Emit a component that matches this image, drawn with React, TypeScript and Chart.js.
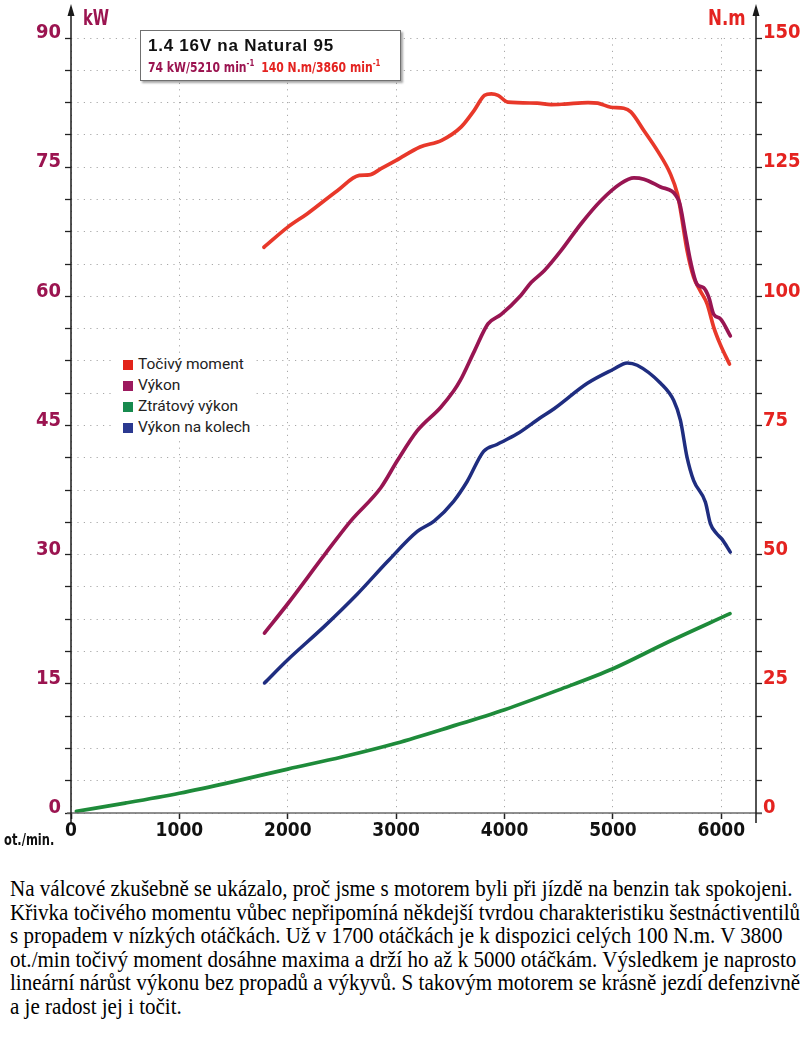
import React, { useEffect, useRef } from 'react';
import { Chart, registerables } from 'chart.js';

Chart.register(...registerables);

// ---------- data ----------
const torqueRpm = [1780, 2000, 2180, 2460, 2660, 2750, 2860, 3000, 3220, 3420, 3600, 3720, 3816, 3878, 3940, 4030, 4300, 4430, 4550, 4770, 4860, 4980, 5100, 5165, 5285, 5410, 5530, 5595, 5625, 5685, 5745, 5805, 5870, 5930, 5990, 6075];
const torqueNm = [109.5, 113.4, 116.0, 120.5, 123.4, 123.5, 124.7, 126.3, 128.9, 130.2, 132.8, 136.0, 138.9, 139.2, 138.9, 137.6, 137.4, 137.1, 137.2, 137.5, 137.4, 136.6, 136.4, 135.7, 132.1, 128.2, 123.7, 119.8, 116.5, 108.8, 103.7, 101.1, 98.5, 94.0, 90.7, 86.9];

const powerRpm = [1785, 2000, 2340, 2580, 2860, 3010, 3195, 3410, 3530, 3590, 3724, 3847, 3969, 4150, 4245, 4368, 4521, 4704, 4888, 5072, 5194, 5286, 5440, 5608, 5669, 5715, 5776, 5837, 5884, 5930, 5991, 6083];
const powerKw = [20.9, 24.3, 30.0, 33.9, 37.8, 40.9, 44.4, 47.1, 49.0, 50.2, 53.7, 56.8, 57.9, 60.1, 61.6, 63.0, 65.3, 68.4, 71.1, 73.1, 73.76, 73.6, 72.7, 71.1, 67.2, 64.1, 61.4, 61.0, 59.9, 57.9, 57.4, 55.4];

const wheelRpm = [1785, 2000, 2340, 2640, 2920, 3195, 3350, 3530, 3655, 3807, 3930, 4113, 4330, 4457, 4764, 5000, 5132, 5224, 5440, 5561, 5623, 5684, 5745, 5853, 5899, 5960, 6006, 6083];
const wheelKw = [15.1, 17.8, 21.7, 25.4, 29.2, 32.7, 33.9, 36.2, 38.5, 42.0, 42.8, 44.0, 45.9, 46.95, 49.9, 51.5, 52.27, 52.0, 49.9, 47.9, 45.6, 41.3, 38.6, 36.1, 33.6, 32.4, 31.8, 30.3];

const lossRpm = [50, 500, 1000, 1500, 2000, 2500, 3000, 3500, 4000, 4500, 5000, 5500, 6080];
const lossKw = [0.2, 1.15, 2.3, 3.65, 5.1, 6.5, 8.1, 10.0, 12.0, 14.3, 16.75, 19.8, 23.15];

const rpmTicks = [0, 1000, 2000, 3000, 4000, 5000, 6000];
const kwLabelStep = 15;
const nmLabelStep = 25;

const legendLabels = ['Točivý moment', 'Výkon', 'Ztrátový výkon', 'Výkon na kolech'];
const legendColors = ['#e2231a', '#9c1a5e', '#178a4e', '#2b3990'];

const titleText = '1.4 16V na Natural 95';
const subPower = '74 kW/5210 min';
const subTorque = '140 N.m/3860 min';

const captionLines = [
  'Na válcové zkušebně se ukázalo, proč jsme s motorem byli při jízdě na benzin tak spokojeni.',
  'Křivka točivého momentu vůbec nepřipomíná někdejší tvrdou charakteristiku šestnáctiventilů',
  's propadem v nízkých otáčkách. Už v 1700 otáčkách je k dispozici celých 100 N.m. V 3800',
  'ot./min točivý moment dosáhne maxima a drží ho až k 5000 otáčkám. Výsledkem je naprosto',
  'lineární nárůst výkonu bez propadů a výkyvů. S takovým motorem se krásně jezdí defenzivně',
  'a je radost jej i točit.',
];

// ---------- styles ----------
const NARROW = '"DejaVu Sans Condensed", "Liberation Sans Narrow", sans-serif';
const MAROON = '#9b1450';
const RED = '#e42320';
const LINE_RED = '#e8382a';
const LINE_MAROON = '#981552';
const LINE_GREEN = '#1e8b3a';
const LINE_BLUE = '#1f2d80';

const toPoints = (xs: number[], ys: number[]) => xs.map((x, i) => ({ x, y: ys[i] }));

const axisDecor = {
  id: 'axisDecor',
  afterDraw(chart: any) {
    const { ctx, chartArea: ca } = chart;
    ctx.save();
    ctx.strokeStyle = '#6a6a6a';
    ctx.lineWidth = 1.6;
    ctx.beginPath();
    ctx.moveTo(ca.left - 4, ca.bottom);
    ctx.lineTo(ca.right + 6, ca.bottom);
    ctx.stroke();
    ctx.strokeStyle = '#1a1a1a';
    ctx.fillStyle = '#1a1a1a';
    ctx.lineWidth = 1.5;
    [ca.left, ca.right].forEach((x: number) => {
      ctx.beginPath();
      ctx.moveTo(x, ca.bottom + 10);
      ctx.lineTo(x, 14);
      ctx.stroke();
      ctx.beginPath();
      ctx.moveTo(x, 4);
      ctx.lineTo(x - 3.5, 16);
      ctx.lineTo(x + 3.5, 16);
      ctx.closePath();
      ctx.fill();
    });
    ctx.restore();
  },
};

function EngineChart() {
  const ref = useRef<HTMLCanvasElement | null>(null);
  useEffect(() => {
    if (!ref.current) return;
    const lineDs = (label: string, pts: any[], color: string, axis: string, width: number) => ({
      label,
      data: pts,
      borderColor: color,
      backgroundColor: color,
      borderWidth: width,
      pointRadius: 0,
      fill: false,
      yAxisID: axis,
      cubicInterpolationMode: 'monotone' as const,
      borderCapStyle: 'round' as const,
      borderJoinStyle: 'round' as const,
    });
    const chart = new Chart(ref.current, {
      type: 'line',
      data: {
        datasets: [
          lineDs('Ztrátový výkon', toPoints(lossRpm, lossKw), LINE_GREEN, 'y', 3.7),
          lineDs('Výkon na kolech', toPoints(wheelRpm, wheelKw), LINE_BLUE, 'y', 3.5),
          lineDs('Výkon', toPoints(powerRpm, powerKw), LINE_MAROON, 'y', 3.7),
          lineDs('Točivý moment', toPoints(torqueRpm, torqueNm), LINE_RED, 'y2', 3.7),
        ],
      },
      options: {
        responsive: false,
        animation: false,
        devicePixelRatio: 1,
        layout: { padding: { top: 38, left: 0, right: 0, bottom: 0 } },
        plugins: { legend: { display: false }, tooltip: { enabled: false }, title: { display: false } },
        scales: {
          x: {
            type: 'linear',
            min: 0,
            max: 6320,
            afterBuildTicks: (s: any) => {
              s.ticks = rpmTicks.map((v) => ({ value: v }));
            },
            afterFit: (s: any) => {
              s.height = 47;
            },
            ticks: {
              autoSkip: false,
              maxRotation: 0,
              minRotation: 0,
              padding: 1,
              color: '#111',
              font: { family: NARROW, size: 19, weight: 'bold' },
              callback: (v: any) => String(v),
            },
            grid: {
              color: '#a8a8a8',
              lineWidth: 1,
              drawTicks: true,
              tickLength: 6,
              tickColor: '#222',
              tickWidth: 1.5,
            },
            border: { display: false, dash: [1.2, 5.2] },
          },
          y: {
            type: 'linear',
            position: 'left',
            min: 0,
            max: 90,
            afterBuildTicks: (s: any) => {
              const t = [];
              for (let v = 0; v <= 90; v += 3.75) t.push({ value: v });
              s.ticks = t;
            },
            afterFit: (s: any) => {
              s.width = 71;
            },
            ticks: {
              autoSkip: false,
              padding: 4,
              labelOffset: -5,
              color: MAROON,
              font: { family: NARROW, size: 20, weight: 'bold' },
              callback: (v: any) => (Math.abs(v % kwLabelStep) < 1e-6 ? String(v) : ''),
            },
            grid: {
              color: '#a8a8a8',
              lineWidth: 1,
              drawTicks: true,
              tickLength: 6,
              tickColor: '#222',
              tickWidth: 1.3,
            },
            border: { display: false, dash: [1.2, 5.2] },
          },
          y2: {
            type: 'linear',
            position: 'right',
            min: 0,
            max: 150,
            afterBuildTicks: (s: any) => {
              const t = [];
              for (let v = 0; v <= 150; v += 6.25) t.push({ value: v });
              s.ticks = t;
            },
            afterFit: (s: any) => {
              s.width = 44;
            },
            ticks: {
              autoSkip: false,
              padding: 1,
              labelOffset: -5,
              color: RED,
              font: { family: NARROW, size: 20, weight: 'bold' },
              callback: (v: any) => (Math.abs(v % nmLabelStep) < 1e-6 ? String(v) : ''),
            },
            grid: {
              drawOnChartArea: false,
              drawTicks: true,
              tickLength: 6,
              tickColor: '#222',
              tickWidth: 1.3,
            },
            border: { display: false },
          },
        },
      } as any,
      plugins: [axisDecor],
    });
    return () => chart.destroy();
  }, []);
  return <canvas ref={ref} width={800} height={860} style={{ position: 'absolute', left: 0, top: 0, width: 800, height: 860 }} />;
}

const squeeze = (s: number): React.CSSProperties => ({ display: 'inline-block', transform: `scaleX(${s})`, transformOrigin: 'left center', whiteSpace: 'nowrap' });

export default function App() {
  return (
    <div style={{ position: 'absolute', left: 0, top: 0, width: 800, height: 1037, background: '#fff', overflow: 'hidden' }}>
      <EngineChart />
      <div style={{ position: 'absolute', left: 83, top: 6, font: `bold 21px ${NARROW}`, color: MAROON }}>
        <span style={squeeze(0.78)}>kW</span>
      </div>
      <div style={{ position: 'absolute', left: 708, top: 6, font: `bold 21px ${NARROW}`, color: RED }}>
        <span style={squeeze(0.88)}>N.m</span>
      </div>
      <div style={{ position: 'absolute', left: 4, top: 831, font: `bold 15px ${NARROW}`, color: '#111' }}>
        <span style={squeeze(0.85)}>ot./min.</span>
      </div>

      <div
        style={{
          position: 'absolute',
          left: 140,
          top: 30,
          width: 261,
          height: 51,
          boxSizing: 'border-box',
          border: '1.5px solid #707070',
          background: '#fff',
          boxShadow: '2px 2px 2px rgba(0,0,0,0.35)',
        }}
      >
        <div style={{ position: 'absolute', left: 7, top: 5, font: 'bold 17px "Liberation Sans", Arial, sans-serif', letterSpacing: '0.75px', color: '#111', whiteSpace: 'nowrap' }}>
          {titleText}
        </div>
        <div style={{ position: 'absolute', left: 7, top: 27, font: `bold 14px ${NARROW}`, whiteSpace: 'nowrap' }}>
          <span style={squeeze(0.86)}>
            <span style={{ color: MAROON }}>
              {subPower}
              <sup style={{ fontSize: 9 }}>-1</sup>
            </span>
            <span style={{ color: RED, marginLeft: 8 }}>
              {subTorque}
              <sup style={{ fontSize: 9 }}>-1</sup>
            </span>
          </span>
        </div>
      </div>

      <div style={{ position: 'absolute', left: 112, top: 355, width: 143, height: 85, background: '#fff' }}>
        {legendLabels.map((lab, i) => (
          <div key={lab} style={{ position: 'absolute', left: 0, top: i * 21, height: 21, width: 143 }}>
            <div style={{ position: 'absolute', left: 11, top: 5, width: 10, height: 10, background: legendColors[i] }} />
            <div style={{ position: 'absolute', left: 26, top: 0, lineHeight: '21px', font: '15.5px Roboto, "Noto Sans", sans-serif', color: '#222', whiteSpace: 'nowrap' }}>
              {lab}
            </div>
          </div>
        ))}
      </div>

      <div style={{ position: 'absolute', left: 10, top: 876 }}>
        {captionLines.map((line, i) => (
          <div
            key={i}
            style={{
              height: 23.5,
              lineHeight: '23.5px',
              font: '23px "Liberation Serif", "Times New Roman", serif',
              color: '#000',
              whiteSpace: 'nowrap',
              transform: 'scaleX(0.915)',
              transformOrigin: 'left center',
            }}
          >
            {line}
          </div>
        ))}
      </div>
    </div>
  );
}
